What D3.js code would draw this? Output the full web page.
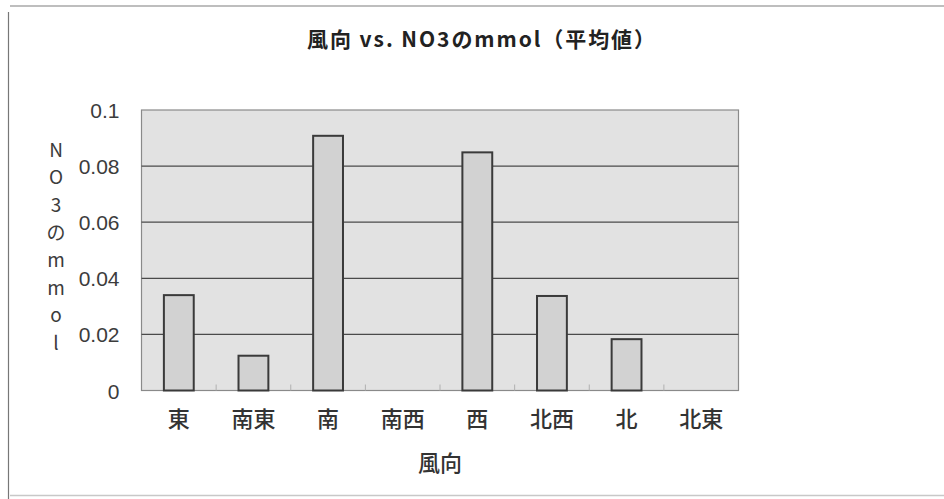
<!DOCTYPE html>
<html>
<head>
<meta charset="utf-8">
<script src="https://cdn.jsdelivr.net/npm/d3@7"></script>
<style>
  html, body { margin: 0; padding: 0; background: #ffffff; }
  svg { display: block; }
</style>
</head>
<body>
<svg id="chart" width="944" height="499"></svg>
<script>
// Average NO3 (mmol) by wind direction
const categories = ["東", "南東", "南", "南西", "西", "北西", "北", "北東"];
const values = [0.0340, 0.0124, 0.0908, null, 0.0849, 0.0337, 0.0183, null];
const yTicks = [0, 0.02, 0.04, 0.06, 0.08, 0.1];
const yTickLabels = ["0", "0.02", "0.04", "0.06", "0.08", "0.1"];
const titleText = "風向 vs. NO3のmmol（平均値）";
const xTitleText = "風向";
const yTitleText = "NO3のmmol";

const svg = d3.select("#chart");
const W = 944, H = 499;
const plot = { left: 141.5, right: 738.5, top: 110, bottom: 390.5 };

const jpFont = "'Noto Sans CJK JP', 'Noto Sans', sans-serif";
const numFont = "'Liberation Sans', Arial, sans-serif";

// chart frame
const frame = svg.append("g");
frame.append("line").attr("x1", 10).attr("x2", W).attr("y1", 6).attr("y2", 6)
  .attr("stroke", "#a8a8a8").attr("stroke-width", 1.5);
frame.append("line").attr("x1", 8.5).attr("x2", 8.5).attr("y1", 12).attr("y2", H)
  .attr("stroke", "#777").attr("stroke-width", 1.2);
frame.append("line").attr("x1", 10).attr("x2", W).attr("y1", 495.5).attr("y2", 495.5)
  .attr("stroke", "#c8c8c8").attr("stroke-width", 1.5);

const x = d3.scaleBand()
  .domain(categories)
  .range([plot.left, plot.right])
  .paddingInner(0.6)
  .paddingOuter(0.3);

const y = d3.scaleLinear()
  .domain([0, 0.1])
  .range([plot.bottom, plot.top]);

// plot area
svg.append("rect")
  .attr("x", plot.left).attr("y", plot.top)
  .attr("width", plot.right - plot.left).attr("height", plot.bottom - plot.top)
  .attr("fill", "#e2e2e2").attr("stroke", "#8a8a8a").attr("stroke-width", 1.2);

// gridlines
svg.append("g").selectAll("line")
  .data(yTicks.filter(d => d > 0 && d < 0.1))
  .join("line")
  .attr("x1", plot.left).attr("x2", plot.right)
  .attr("y1", d => y(d)).attr("y2", d => y(d))
  .attr("stroke", "#4a4a4a").attr("stroke-width", 1.3);

// category tick marks along the base
const step = x.step();
const boundaries = categories.slice(1).map(c => x(c) - x.paddingInner() * step / 2);
svg.append("g").selectAll("line")
  .data(boundaries)
  .join("line")
  .attr("x1", d => d).attr("x2", d => d)
  .attr("y1", plot.bottom).attr("y2", plot.bottom - 6)
  .attr("stroke", "#b0b0b0").attr("stroke-width", 1);

// bars
svg.append("g").selectAll("rect")
  .data(categories.map((c, i) => ({ c, v: values[i] })).filter(d => d.v != null))
  .join("rect")
  .attr("x", d => x(d.c))
  .attr("y", d => y(d.v))
  .attr("width", x.bandwidth())
  .attr("height", d => y(0) - y(d.v))
  .attr("fill", "#d2d2d2")
  .attr("stroke", "#3a3a3a")
  .attr("stroke-width", 2);

// y axis labels
const yAxis = svg.append("g")
  .attr("transform", `translate(${plot.left - 22},0)`)
  .call(d3.axisLeft(y).tickValues(yTicks).tickFormat((d, i) => yTickLabels[i]).tickSize(0).tickPadding(0));
yAxis.select(".domain").remove();
yAxis.selectAll("text")
  .attr("font-family", numFont).attr("font-size", 21)
  .attr("fill", "#3c3c3c").attr("dy", "0.36em");

// x axis labels
const xAxis = svg.append("g")
  .attr("transform", `translate(0,${plot.bottom})`)
  .call(d3.axisBottom(x).tickSize(0).tickPadding(0));
xAxis.select(".domain").remove();
xAxis.selectAll("text")
  .attr("font-family", jpFont).attr("font-size", 22).attr("font-weight", 500)
  .attr("fill", "#333").attr("y", 36).attr("dy", "0");

// title
svg.append("text")
  .attr("x", 481).attr("y", 47)
  .attr("text-anchor", "middle")
  .attr("font-family", jpFont).attr("font-size", 21).attr("font-weight", "bold")
  .attr("fill", "#222")
  .attr("textLength", 348).attr("lengthAdjust", "spacing")
  .text(titleText);

// x axis title
svg.append("text")
  .attr("x", 440).attr("y", 471)
  .attr("text-anchor", "middle")
  .attr("font-family", jpFont).attr("font-size", 22).attr("font-weight", 500)
  .attr("fill", "#333")
  .text(xTitleText);

// y axis title, stacked vertically
const yChars = Array.from(yTitleText);
svg.append("g").selectAll("text")
  .data(yChars)
  .join("text")
  .attr("x", 56)
  .attr("y", (d, i) => 150 + i * 27.6)
  .attr("dy", "0.36em")
  .attr("text-anchor", "middle")
  .attr("font-family", jpFont).attr("font-size", 19)
  .attr("fill", "#3c3c3c")
  .text(d => d);
</script>
</body>
</html>
